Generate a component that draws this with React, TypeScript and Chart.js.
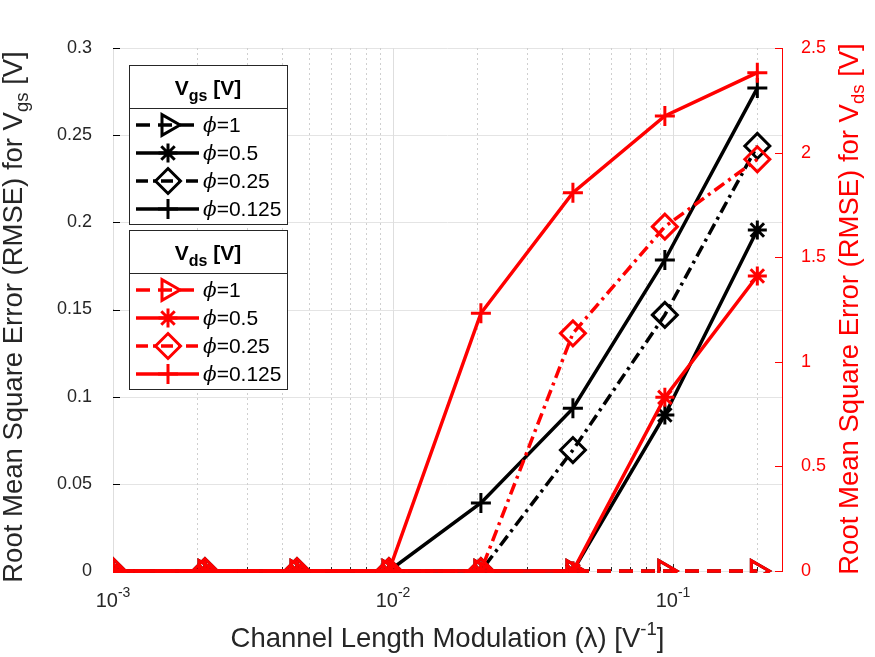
import { useEffect, useRef } from 'react';
import { Chart, registerables } from 'chart.js';

Chart.register(...registerables);

// Channel length modulation λ [1/V]
const lambdaValues = [0.001, 0.00213, 0.00454, 0.00967, 0.0206, 0.0439, 0.0935, 0.2];

// RMSE of Vgs [V] for each φ
const vgsPhi1 = [0, 0, 0, 0, 0, 0, 0, 0];
const vgsPhi05 = [0, 0, 0, 0, 0, 0, 0.0895, 0.1956];
const vgsPhi025 = [0, 0, 0, 0, 0, 0.0694, 0.1469, 0.2438];
const vgsPhi0125 = [0, 0, 0, 0, 0.039, 0.0933, 0.1784, 0.277];

// RMSE of Vds [V] for each φ
const vdsPhi1 = [0, 0, 0, 0, 0, 0, 0, 0];
const vdsPhi05 = [0, 0, 0, 0, 0, 0, 0.83, 1.41];
const vdsPhi025 = [0, 0, 0, 0, 0, 1.136, 1.646, 1.968];
const vdsPhi0125 = [0, 0, 0, 0, 1.232, 1.808, 2.175, 2.382];

const phiLabels = ['1', '0.5', '0.25', '0.125'];
const vgsTickValues = [0, 0.05, 0.1, 0.15, 0.2, 0.25, 0.3];
const vdsTickValues = [0, 0.5, 1, 1.5, 2, 2.5];
const decadeExponents = [-3, -2, -1];

const W = 875;
const H = 657;
const PLOT_LEFT = 113;
const PLOT_RIGHT = 782;
const PLOT_TOP = 48;
const PLOT_BOTTOM = 571;

const BLACK = '#000000';
const RED = '#ff0000';
const AXIS_TEXT = '#262626';
const SANS = '"Liberation Sans", Arial, Helvetica, sans-serif';
const SERIF = '"DejaVu Serif", "Liberation Serif", serif';
const TITLE_PX = 27.5;
const TITLE_SUB_PX = 18.5;

type MarkerStyle = 'triangle' | 'star' | 'rectRot' | 'cross';
type SeriesStyle = { dash: number[]; point: MarkerStyle; rotation: number; radius: number };

// one style per φ: dashed/▷, solid/*, dash-dot/◇, solid/+
const seriesStyles: SeriesStyle[] = [
  { dash: [14, 8], point: 'triangle', rotation: 90, radius: 12 },
  { dash: [], point: 'star', rotation: 0, radius: 9.5 },
  { dash: [12, 5, 3, 5], point: 'rectRot', rotation: 0, radius: 12.5 },
  { dash: [], point: 'cross', rotation: 0, radius: 10 },
];

const LINE_W = 3.5;
const MARK_W = 3;

function makeDataset(values: number[], idx: number, color: string, axis: string, order: number) {
  const st = seriesStyles[idx];
  return {
    label: `${axis === 'y' ? 'Vgs' : 'Vds'} φ=${phiLabels[idx]}`,
    data: lambdaValues.map((x, k) => ({ x, y: values[k] })),
    yAxisID: axis,
    borderColor: color,
    backgroundColor: 'transparent',
    pointBackgroundColor: 'transparent',
    pointBorderColor: color,
    pointBorderWidth: MARK_W,
    borderWidth: LINE_W,
    borderDash: st.dash,
    pointStyle: st.point,
    pointRotation: st.rotation,
    pointRadius: st.radius,
    pointHoverRadius: st.radius,
    tension: 0,
    order,
    clip: { left: 0, top: 6, right: 6, bottom: 2 },
  };
}

type Seg = { t: string; font: string; dy?: number };

function richWidth(ctx: CanvasRenderingContext2D, segs: Seg[]) {
  let w = 0;
  for (const s of segs) {
    ctx.font = s.font;
    w += ctx.measureText(s.t).width;
  }
  return w;
}

function drawRich(ctx: CanvasRenderingContext2D, segs: Seg[], x: number, y: number, align: 'left' | 'center') {
  const total = richWidth(ctx, segs);
  let cx = align === 'center' ? x - total / 2 : x;
  ctx.textAlign = 'left';
  ctx.textBaseline = 'alphabetic';
  for (const s of segs) {
    ctx.font = s.font;
    ctx.fillText(s.t, cx, y + (s.dy || 0));
    cx += ctx.measureText(s.t).width;
  }
}

function drawMarker(ctx: CanvasRenderingContext2D, st: SeriesStyle, x: number, y: number) {
  const r = st.radius;
  let rad = (st.rotation * Math.PI) / 180;
  ctx.beginPath();
  if (st.point === 'triangle') {
    ctx.moveTo(x + Math.sin(rad) * r, y - Math.cos(rad) * r);
    rad += (2 * Math.PI) / 3;
    ctx.lineTo(x + Math.sin(rad) * r, y - Math.cos(rad) * r);
    rad += (2 * Math.PI) / 3;
    ctx.lineTo(x + Math.sin(rad) * r, y - Math.cos(rad) * r);
    ctx.closePath();
  } else if (st.point === 'rectRot') {
    ctx.moveTo(x - r, y);
    ctx.lineTo(x, y - r);
    ctx.lineTo(x + r, y);
    ctx.lineTo(x, y + r);
    ctx.closePath();
  } else if (st.point === 'cross') {
    ctx.moveTo(x - r, y);
    ctx.lineTo(x + r, y);
    ctx.moveTo(x, y - r);
    ctx.lineTo(x, y + r);
  } else {
    for (let k = 0; k < 4; k++) {
      const a = rad + (k * Math.PI) / 4;
      ctx.moveTo(x - Math.cos(a) * r, y - Math.sin(a) * r);
      ctx.lineTo(x + Math.cos(a) * r, y + Math.sin(a) * r);
    }
  }
  ctx.stroke();
}

function drawLegendBox(ctx: CanvasRenderingContext2D, top: number, sub: string, color: string) {
  const left = 129;
  const right = 287;
  const bottom = top + 159;
  const sep = top + 43;
  ctx.save();
  ctx.fillStyle = '#ffffff';
  ctx.fillRect(left, top, right - left, bottom - top);
  ctx.strokeStyle = AXIS_TEXT;
  ctx.lineWidth = 1;
  ctx.setLineDash([]);
  ctx.strokeRect(left + 0.5, top + 0.5, right - left, bottom - top);
  ctx.beginPath();
  ctx.moveTo(left, sep + 0.5);
  ctx.lineTo(right, sep + 0.5);
  ctx.stroke();

  ctx.fillStyle = '#000000';
  drawRich(
    ctx,
    [
      { t: 'V', font: `bold 21px ${SANS}` },
      { t: sub, font: `bold 16px ${SANS}`, dy: 6 },
      { t: ' [V]', font: `bold 21px ${SANS}` },
    ],
    (left + right) / 2,
    top + 30,
    'center'
  );

  for (let i = 0; i < 4; i++) {
    const st = seriesStyles[i];
    const y = top + 60 + 28 * i;
    ctx.strokeStyle = color;
    ctx.lineWidth = LINE_W;
    ctx.setLineDash(st.dash);
    ctx.beginPath();
    ctx.moveTo(136, y);
    ctx.lineTo(199, y);
    ctx.stroke();
    ctx.setLineDash([]);
    ctx.lineWidth = MARK_W;
    drawMarker(ctx, st, 168, y);
    ctx.fillStyle = '#000000';
    drawRich(
      ctx,
      [
        { t: 'ϕ', font: `italic 20px ${SERIF}` },
        { t: '=' + phiLabels[i], font: `21px ${SANS}` },
      ],
      203,
      y + 7,
      'left'
    );
  }
  ctx.restore();
}

const decorPlugin = {
  id: 'decor',
  beforeDatasetsDraw(chart: any) {
    const { ctx, chartArea: a, scales } = chart;
    const xs = scales.x;
    const ys = scales.y;
    const ys2 = scales.y2;
    ctx.save();
    ctx.lineWidth = 1;
    // horizontal grid at the left-axis ticks
    ctx.strokeStyle = '#e4e4e4';
    ctx.setLineDash([]);
    for (const v of vgsTickValues) {
      const py = Math.round(ys.getPixelForValue(v)) + 0.5;
      ctx.beginPath();
      ctx.moveTo(a.left, py);
      ctx.lineTo(a.right, py);
      ctx.stroke();
    }
    // x grid: decades solid, intermediate values dotted
    for (const e of decadeExponents.concat([-4, 0])) {
      for (let d = 1; d <= 9; d++) {
        const v = d * Math.pow(10, e);
        if (v < xs.min - 1e-12 || v > xs.max + 1e-12) continue;
        const px = Math.round(xs.getPixelForValue(v)) + 0.5;
        ctx.beginPath();
        if (d === 1) {
          ctx.strokeStyle = '#dedede';
          ctx.setLineDash([]);
        } else {
          ctx.strokeStyle = '#cfcfcf';
          ctx.setLineDash([2, 3]);
        }
        ctx.moveTo(px, a.top);
        ctx.lineTo(px, a.bottom);
        ctx.stroke();
        // inward tick marks along the bottom axis
        ctx.setLineDash([]);
        ctx.strokeStyle = AXIS_TEXT;
        ctx.beginPath();
        ctx.moveTo(px, a.bottom);
        ctx.lineTo(px, a.bottom - (d === 1 ? 7 : 4));
        ctx.stroke();
      }
    }
    ctx.setLineDash([]);
    // inward ticks on the left axis
    ctx.strokeStyle = BLACK;
    for (const v of vgsTickValues) {
      const py = Math.round(ys.getPixelForValue(v)) + 0.5;
      ctx.beginPath();
      ctx.moveTo(a.left, py);
      ctx.lineTo(a.left + 7, py);
      ctx.stroke();
    }
    // inward ticks on the right axis
    ctx.strokeStyle = RED;
    for (const v of vdsTickValues) {
      const py = Math.round(ys2.getPixelForValue(v)) + 0.5;
      ctx.beginPath();
      ctx.moveTo(a.right, py);
      ctx.lineTo(a.right - 7, py);
      ctx.stroke();
    }
    ctx.restore();
  },
  afterDraw(chart: any) {
    const { ctx, chartArea: a, scales } = chart;
    const xs = scales.x;
    ctx.save();

    // log-axis tick labels 10^n
    ctx.fillStyle = AXIS_TEXT;
    for (const e of decadeExponents) {
      const px = xs.getPixelForValue(Math.pow(10, e));
      drawRich(
        ctx,
        [
          { t: '10', font: `20px ${SANS}` },
          { t: String(e), font: `14px ${SANS}`, dy: -10 },
        ],
        px,
        607,
        'center'
      );
    }

    // x-axis title
    ctx.fillStyle = AXIS_TEXT;
    drawRich(
      ctx,
      [
        { t: 'Channel Length Modulation (', font: `${TITLE_PX}px ${SANS}` },
        { t: 'λ', font: `${TITLE_PX}px ${SANS}` },
        { t: ') [V', font: `${TITLE_PX}px ${SANS}` },
        { t: '-1', font: `${TITLE_SUB_PX}px ${SANS}`, dy: -12 },
        { t: ']', font: `${TITLE_PX}px ${SANS}` },
      ],
      (a.left + a.right) / 2,
      647,
      'center'
    );

    // left y-axis title
    ctx.save();
    ctx.translate(22, 317);
    ctx.rotate(-Math.PI / 2);
    ctx.fillStyle = AXIS_TEXT;
    drawRich(
      ctx,
      [
        { t: 'Root Mean Square Error (RMSE) for V', font: `${TITLE_PX}px ${SANS}` },
        { t: 'gs', font: `${TITLE_SUB_PX}px ${SANS}`, dy: 6 },
        { t: ' [V]', font: `${TITLE_PX}px ${SANS}` },
      ],
      0,
      0,
      'center'
    );
    ctx.restore();

    // right y-axis title
    ctx.save();
    ctx.translate(858, 309);
    ctx.rotate(-Math.PI / 2);
    ctx.fillStyle = RED;
    drawRich(
      ctx,
      [
        { t: 'Root Mean Square Error (RMSE) for V', font: `${TITLE_PX}px ${SANS}` },
        { t: 'ds', font: `${TITLE_SUB_PX}px ${SANS}`, dy: 6 },
        { t: ' [V]', font: `${TITLE_PX}px ${SANS}` },
      ],
      0,
      0,
      'center'
    );
    ctx.restore();

    // legends for the two axes
    drawLegendBox(ctx, 65, 'gs', BLACK);
    drawLegendBox(ctx, 230, 'ds', RED);

    ctx.restore();
  },
};

export default function App() {
  const canvasRef = useRef<HTMLCanvasElement | null>(null);

  useEffect(() => {
    const canvas = canvasRef.current;
    if (!canvas) return;

    const datasets = [
      makeDataset(vdsPhi0125, 3, RED, 'y2', 0),
      makeDataset(vdsPhi025, 2, RED, 'y2', 1),
      makeDataset(vdsPhi05, 1, RED, 'y2', 2),
      makeDataset(vdsPhi1, 0, RED, 'y2', 3),
      makeDataset(vgsPhi0125, 3, BLACK, 'y', 4),
      makeDataset(vgsPhi025, 2, BLACK, 'y', 5),
      makeDataset(vgsPhi05, 1, BLACK, 'y', 6),
      makeDataset(vgsPhi1, 0, BLACK, 'y', 7),
    ];

    const chart = new Chart(canvas, {
      type: 'line',
      data: { datasets } as any,
      options: {
        responsive: false,
        animation: false,
        events: [],
        layout: { padding: { top: PLOT_TOP, left: 0, right: 0, bottom: 0 } },
        plugins: {
          legend: { display: false },
          tooltip: { enabled: false },
          title: { display: false },
        },
        scales: {
          x: {
            type: 'logarithmic',
            min: 0.001,
            max: 0.245,
            grid: { display: false },
            border: { display: true, color: '#333333', width: 1 },
            ticks: { display: false },
            afterFit: (s: any) => {
              s.height = H - PLOT_BOTTOM;
            },
          },
          y: {
            type: 'linear',
            position: 'left',
            min: 0,
            max: 0.3,
            ticks: {
              stepSize: 0.05,
              color: AXIS_TEXT,
              padding: 13,
              font: { family: SANS, size: 18 },
              callback: (v: any) => String(Math.round(Number(v) * 100) / 100),
            },
            grid: { display: false },
            border: { display: true, color: BLACK, width: 1 },
            afterFit: (s: any) => {
              s.width = PLOT_LEFT;
            },
          },
          y2: {
            type: 'linear',
            position: 'right',
            min: 0,
            max: 2.5,
            ticks: {
              stepSize: 0.5,
              color: RED,
              padding: 11,
              font: { family: SANS, size: 18 },
              callback: (v: any) => String(Math.round(Number(v) * 10) / 10),
            },
            grid: { display: false },
            border: { display: true, color: RED, width: 1 },
            afterFit: (s: any) => {
              s.width = W - PLOT_RIGHT;
            },
          },
        },
      } as any,
      plugins: [decorPlugin],
    });

    return () => {
      chart.destroy();
    };
  }, []);

  return (
    <div style={{ position: 'absolute', left: 0, top: 0, width: W, height: H, background: '#ffffff' }}>
      <canvas ref={canvasRef} width={W} height={H} style={{ display: 'block', width: W, height: H }} />
    </div>
  );
}
